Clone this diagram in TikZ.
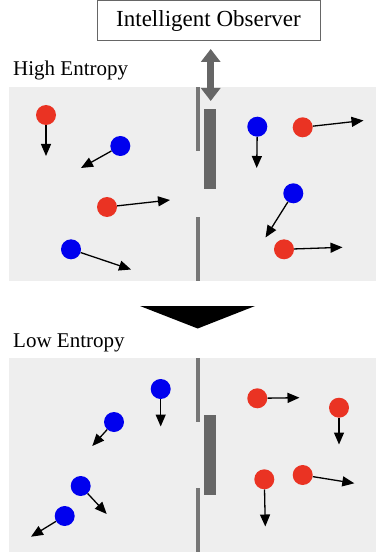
\documentclass[tikz,border=0pt]{standalone}
\usepackage{fontspec}
\setmainfont{Liberation Serif}
\usetikzlibrary{arrows.meta}
\definecolor{pred}{HTML}{EA3323}
\definecolor{pblue}{HTML}{0000EE}
\definecolor{panelgray}{HTML}{EEEEEE}
\definecolor{wallgray}{HTML}{767676}
\definecolor{gategray}{HTML}{666666}
\tikzset{
  redp/.style={circle, fill=pred, minimum size=20pt, inner sep=0pt},
  bluep/.style={circle, fill=pblue, minimum size=20pt, inner sep=0pt},
  vec/.style={line width=1.3pt, -{Triangle[length=12pt,width=10pt]}},
  panel/.style={fill=panelgray},
  wall/.style={fill=wallgray},
  gate/.style={fill=gategray, draw=none, inner sep=0pt, minimum width=12pt},
  lbl/.style={font=\fontsize{21}{25}\selectfont, anchor=base west, inner sep=0pt},
  obsbox/.style={draw=gategray, line width=1pt, minimum width=223pt, minimum height=40pt, font=\fontsize{23}{27}\selectfont},
  dbl/.style={draw=gategray, line width=7pt, {Triangle[length=13pt,width=19pt]}-{Triangle[length=13pt,width=19pt]}}
}
\begin{document}
\begin{tikzpicture}[x=1pt,y=-1pt]
\useasboundingbox (0,0) rectangle (376,553);
% observer
\node[obsbox] (obs) at (208.5,21) {Intelligent Observer};
% panels
\fill[panel] (9,87) rectangle (376,281);
\fill[panel] (9,358) rectangle (376,552);
% labels
\node[lbl] (hi) at (13,76) {High Entropy};
\node[lbl] (lo) at (13,347) {Low Entropy};
% transition triangle
\fill[black] (140,306) -- (255,306) -- (197.7,328.5) -- cycle;
% top walls
\fill[wall] (195.5,87) rectangle (199.5,151);
\fill[wall] (195.5,217) rectangle (199.5,281);
\node[gate, minimum height=80pt] (g1) at (210.3,149.3) {};
% bottom walls
\fill[wall] (195.5,358) rectangle (199.5,422);
\fill[wall] (195.5,488) rectangle (199.5,552);
\node[gate, minimum height=80pt] (g2) at (210.3,454.5) {};
% double arrow
\coordinate (da) at (210.7,49);
\coordinate (db) at (210.7,101);
\draw[dbl] (da) -- (db);
% top particles
\node[redp] (p1) at (46,115) {};
\node[bluep] (p2) at (120.3,146) {};
\node[redp] (p3) at (107,207) {};
\node[bluep] (p4) at (71,249.3) {};
\node[bluep] (p5) at (257.3,126.7) {};
\node[redp] (p6) at (302.7,127.3) {};
\node[bluep] (p7) at (293.3,193.3) {};
\node[redp] (p8) at (284,249.3) {};
\coordinate (t1) at (46,156);
\coordinate (t2) at (81,168);
\coordinate (t3) at (170,200);
\coordinate (t4) at (131,269.5);
\coordinate (t5) at (256.7,168);
\coordinate (t6) at (363.5,120.5);
\coordinate (t7) at (265.5,237.5);
\coordinate (t8) at (342.5,247.3);
\draw[vec] (p1) -- (t1);
\draw[vec] (p2) -- (t2);
\draw[vec] (p3) -- (t3);
\draw[vec] (p4) -- (t4);
\draw[vec] (p5) -- (t5);
\draw[vec] (p6) -- (t6);
\draw[vec] (p7) -- (t7);
\draw[vec] (p8) -- (t8);
% bottom particles
\node[bluep] (p9) at (160.7,389) {};
\node[bluep] (p10) at (114,422) {};
\node[bluep] (p11) at (80.7,486) {};
\node[bluep] (p12) at (64.7,516) {};
\node[redp] (p13) at (257.3,398.3) {};
\node[redp] (p14) at (339,407.7) {};
\node[redp] (p15) at (264.3,479.3) {};
\node[redp] (p16) at (302.7,475) {};
\coordinate (t9) at (160.7,426.5);
\coordinate (t10) at (92.3,446);
\coordinate (t11) at (106.7,514);
\coordinate (t12) at (31,536.7);
\coordinate (t13) at (299.5,397.7);
\coordinate (t14) at (339,444.5);
\coordinate (t15) at (265.3,526.5);
\coordinate (t16) at (354.3,483.3);
\draw[vec] (p9) -- (t9);
\draw[vec] (p10) -- (t10);
\draw[vec] (p11) -- (t11);
\draw[vec] (p12) -- (t12);
\draw[vec] (p13) -- (t13);
\draw[vec] (p14) -- (t14);
\draw[vec] (p15) -- (t15);
\draw[vec] (p16) -- (t16);
\end{tikzpicture}
\end{document}
